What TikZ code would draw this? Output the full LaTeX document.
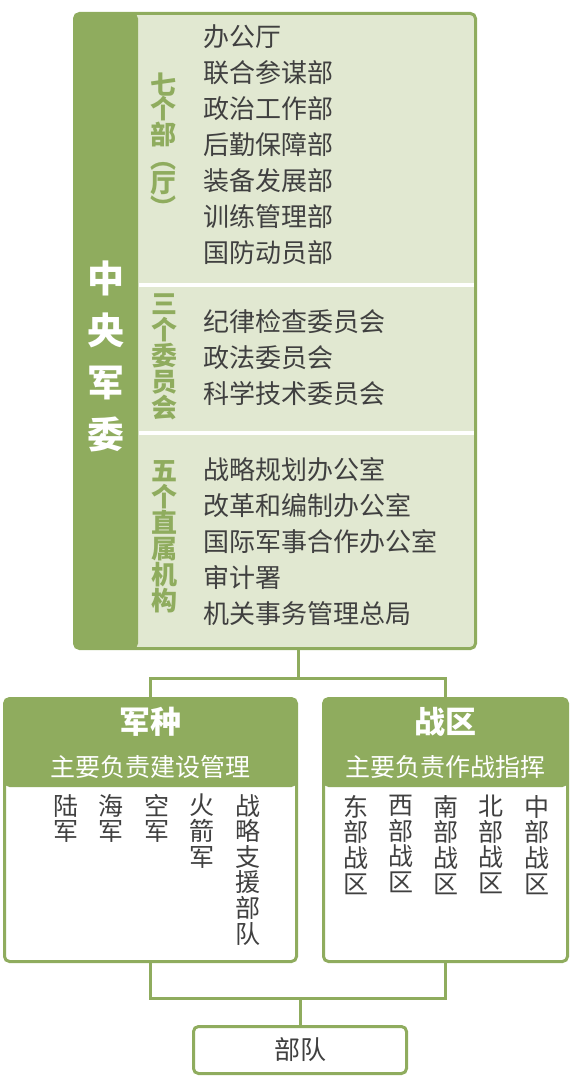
\documentclass[tikz,border=0pt]{standalone}
\usepackage{fontspec}
\setmainfont{Noto Sans CJK SC}
\definecolor{cmcgreen}{HTML}{8FAC5E}
\definecolor{cmcpale}{HTML}{E1E8D1}
\definecolor{itemgray}{HTML}{404040}
\tikzset{
  link/.style={draw=cmcgreen, line width=3pt},
  unitbox/.style={draw=cmcgreen, line width=3pt, rounded corners=5pt, inner sep=0pt},
  itemlist/.style={anchor=west, align=left, inner sep=0pt, text=itemgray, font=\fontsize{26}{36}\selectfont},
  grouplabel/.style={align=center, inner sep=0pt, text=cmcgreen, font=\bfseries\fontsize{26}{26}\selectfont},
  vlist/.style={anchor=north, align=center, inner sep=0pt, text=itemgray, font=\fontsize{25}{25.6}\selectfont},
  headtitle/.style={inner sep=0pt, text=white, font=\bfseries\fontsize{31}{31}\selectfont},
  headnote/.style={inner sep=0pt, text=white, font=\fontsize{25}{25}\selectfont}
}

\begin{document}
\begin{tikzpicture}[x=1pt,y=-1pt]
\useasboundingbox (0,0) rectangle (577,1083);
\node[unitbox, fill=cmcpale, minimum width=401pt, minimum height=635pt,
  path picture={\fill[cmcgreen] (path picture bounding box.north west) rectangle ([xshift=63.5pt]path picture bounding box.south west);}] (cmc) at (275,331) {};
\draw[white, line width=4pt] (139,285) -- (474,285);
\draw[white, line width=4pt] (139,433) -- (474,433);
\node[inner sep=0pt, align=center, text=white, font=\bfseries\fontsize{37}{52}\selectfont] (cmcname) at (106,356) {中\\央\\军\\委};
\node[grouplabel, font=\bfseries\fontsize{26}{24}\selectfont] (deptlabel) at (163,145) {七\\个\\部\\︵\\厅\\︶};
\node[grouplabel] (commlabel) at (164,357) {三\\个\\委\\员\\会};
\node[grouplabel] (officelabel) at (164,537) {五\\个\\直\\属\\机\\构};
\node[itemlist] (depts) at (203,145) {办公厅\\联合参谋部\\政治工作部\\后勤保障部\\装备发展部\\训练管理部\\国防动员部};
\node[itemlist] (comms) at (203,358) {纪律检查委员会\\政法委员会\\科学技术委员会};
\node[itemlist] (offices) at (203,542) {战略规划办公室\\改革和编制办公室\\国际军事合作办公室\\审计署\\机关事务管理总局};

\node[unitbox, fill=white, minimum width=292pt, minimum height=263pt,
  path picture={\fill[cmcgreen] (path picture bounding box.north west) rectangle ([yshift=-88.5pt]path picture bounding box.north east);}] (branch) at (150.5,830) {};
\node[headtitle] (branchtitle) at (150.5,722) {军种};
\node[headnote] (branchnote) at (150.5,767) {主要负责建设管理};
\node[vlist] (army) at (66,794) {陆\\军};
\node[vlist] (navy) at (111,794) {海\\军};
\node[vlist] (airforce) at (157,794) {空\\军};
\node[vlist] (rocket) at (202,794) {火\\箭\\军};
\node[vlist] (support) at (248,794) {战\\略\\支\\援\\部\\队};

\node[unitbox, fill=white, minimum width=244pt, minimum height=263pt,
  path picture={\fill[cmcgreen] (path picture bounding box.north west) rectangle ([yshift=-88.5pt]path picture bounding box.north east);}] (zone) at (445.5,830) {};
\node[headtitle] (zonetitle) at (445.5,722) {战区};
\node[headnote] (zonenote) at (445.5,767) {主要负责作战指挥};
\node[vlist] (eastzone) at (356,795) {东\\部\\战\\区};
\node[vlist] (westzone) at (401,795) {西\\部\\战\\区};
\node[vlist] (southzone) at (446,795) {南\\部\\战\\区};
\node[vlist] (northzone) at (491,795) {北\\部\\战\\区};
\node[vlist] (centralzone) at (537,795) {中\\部\\战\\区};

\node[unitbox, fill=white, minimum width=213pt, minimum height=47pt, text=itemgray, font=\fontsize{26}{26}\selectfont] (troops) at (300,1050) {部队};

\coordinate (upsplit) at (298,678);
\coordinate (downsplit) at (300,998);
\draw[link] (cmc.south -| upsplit) -- (upsplit);
\draw[link] (branch.north) |- (upsplit) -| (zone.north);
\draw[link] (branch.south) |- (downsplit) -| (zone.south);
\draw[link] (downsplit) -- (troops.north);
\end{tikzpicture}
\end{document}
